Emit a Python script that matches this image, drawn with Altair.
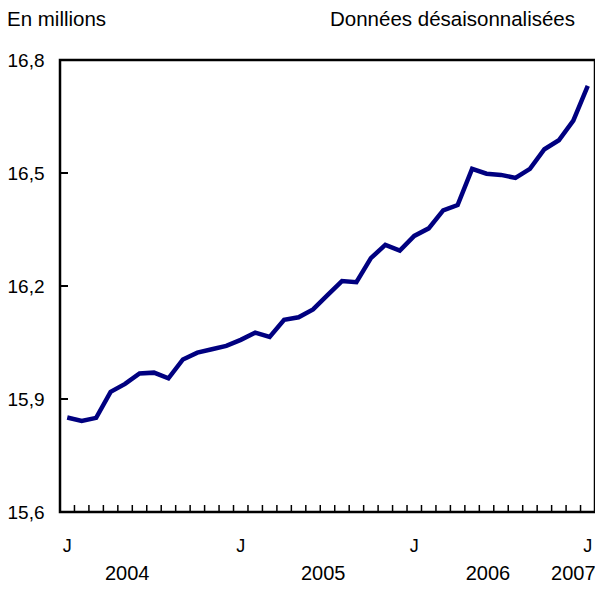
import altair as alt
import pandas as pd

# Employment, seasonally adjusted, millions (Jan 2004 .. Jan 2007)
values_2004 = [15.851, 15.842, 15.850, 15.919, 15.940, 15.968, 15.970, 15.955, 16.005, 16.023, 16.032, 16.041]
values_2005 = [16.057, 16.076, 16.065, 16.110, 16.117, 16.138, 16.176, 16.213, 16.210, 16.274, 16.309, 16.294]
values_2006 = [16.333, 16.353, 16.401, 16.415, 16.511, 16.498, 16.495, 16.487, 16.511, 16.563, 16.587, 16.639]
values_2007 = [16.731]

y_ticks = [15.6, 15.9, 16.2, 16.5, 16.8]
inner_y_ticks = [15.9, 16.2, 16.5]
jan_positions = [0, 12, 24, 36]
jan_labels = ["J", "J", "J", "J"]
year_labels = ["2004", "2005", "2006", "2007"]
year_positions = [4.15, 17.7, 29.1, 35.0]

FONT = "Liberation Sans"

vals = values_2004 + values_2005 + values_2006 + values_2007
df = pd.DataFrame({"m": list(range(len(vals))), "v": vals})
df_mticks = pd.DataFrame({"m": [i + 0.5 for i in range(len(vals) - 1)]})
df_yticks = pd.DataFrame({"v": inner_y_ticks})
df_jan = pd.DataFrame({"m": jan_positions, "t": jan_labels})
df_years = pd.DataFrame({"m": year_positions, "t": year_labels})
df_one = pd.DataFrame({"a": [0]})

W, H = 535, 452

xs = alt.Scale(domain=[-0.5, 36.5], nice=False, zero=False)
ys = alt.Scale(domain=[15.6, 16.8], nice=False, zero=False)

line = alt.Chart(df).mark_line(color="#000080", strokeWidth=4.5).encode(
    x=alt.X("m:Q", scale=xs, axis=None),
    y=alt.Y("v:Q", scale=ys, axis=alt.Axis(
        values=y_ticks, title=None, ticks=False, domain=False, grid=False,
        labelExpr="replace(format(datum.value, '.1f'), '.', ',')",
        labelFont=FONT, labelFontSize=19, labelColor="black", labelPadding=16,
    )),
)

mticks = alt.Chart(df_mticks).mark_rule(color="black", strokeWidth=1.5).encode(
    x=alt.X("m:Q", scale=xs),
    y=alt.value(H),
    y2=alt.value(H - 7),
)

yticks = alt.Chart(df_yticks).mark_rule(color="black", strokeWidth=2).encode(
    y=alt.Y("v:Q", scale=ys),
    x=alt.value(0),
    x2=alt.value(8),
)

jan = alt.Chart(df_jan).mark_text(font=FONT, fontSize=18, color="black", align="center", baseline="alphabetic").encode(
    x=alt.X("m:Q", scale=xs),
    y=alt.value(492),
    text="t:N",
)

years = alt.Chart(df_years).mark_text(font=FONT, fontSize=20, color="black", align="center", baseline="alphabetic").encode(
    x=alt.X("m:Q", scale=xs),
    y=alt.value(520),
    text="t:N",
)

title_left = alt.Chart(df_one).mark_text(font=FONT, fontSize=20.5, color="black", align="left", baseline="alphabetic", text="En millions").encode(
    x=alt.value(-53), y=alt.value(-34),
)
title_right = alt.Chart(df_one).mark_text(font=FONT, fontSize=20.5, color="black", align="right", baseline="alphabetic", text="Données désaisonnalisées").encode(
    x=alt.value(515), y=alt.value(-34),
)

chart = alt.layer(line, mticks, yticks, jan, years, title_left, title_right).properties(
    width=W, height=H,
    autosize=alt.AutoSizeParams(type="none"),
    padding={"left": 52, "top": 52, "right": 0, "bottom": 74},
    background="white",
).configure_view(stroke="black", strokeWidth=2.5)

chart.save("out.html", embed_options={"renderer": "svg", "actions": False})
